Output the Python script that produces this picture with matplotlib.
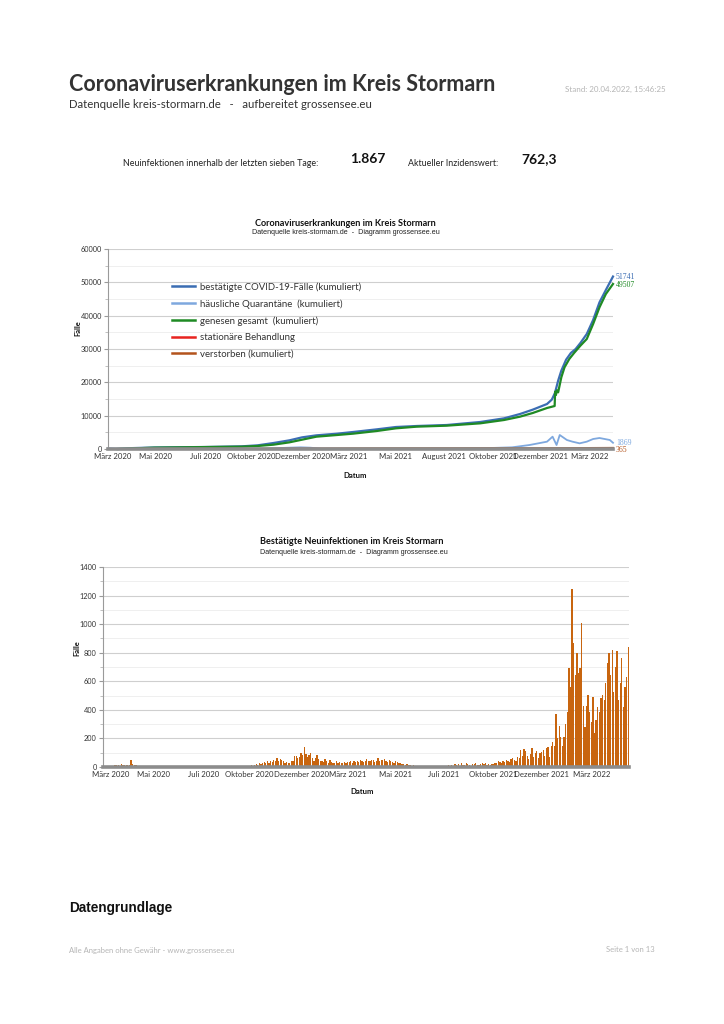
import numpy as np
import matplotlib
matplotlib.use("Agg")
import matplotlib.pyplot as plt
from matplotlib.ticker import MultipleLocator

# ------------------------------------------------------------
# Data (x = running sample index on the category axis)
# ------------------------------------------------------------
tick_idx = [4, 31, 62, 91, 123, 152, 182, 212, 243, 273, 304]
tick_labels_1 = ["März 2020", "Mai 2020", "Juli 2020", "Oktober 2020", "Dezember 2020",
                 "März 2021", "Mai 2021", "August 2021", "Oktober 2021", "Dezember 2021",
                 "März 2022"]
tick_labels_2 = ["März 2020", "Mai 2020", "Juli 2020", "Oktober 2020", "Dezember 2020",
                 "März 2021", "Mai 2021", "Juli 2021", "Oktober 2021", "Dezember 2021",
                 "März 2022"]

# cumulative confirmed cases
conf_x = [7, 15, 30, 62, 85, 95, 105, 115, 123, 132, 145, 155, 170, 182, 195, 214, 235,
          250, 260, 268, 277, 280, 282, 284, 286, 289, 292, 295, 298, 302, 306, 310, 314, 318.5]
conf_y = [0, 250, 450, 600, 800, 1100, 1800, 2600, 3500, 4100, 4600, 5100, 5900, 6600, 6900,
          7200, 8100, 9200, 10500, 11800, 13500, 14800, 16800, 20500, 23500, 26800, 28800,
          30000, 31800, 34500, 38700, 44000, 47700, 51741]

# recovered
rec_x = [7, 15, 30, 62, 85, 95, 105, 115, 123, 132, 145, 155, 170, 182, 195, 214, 235,
         250, 260, 268, 277, 281.8, 282.1, 282.6, 283.2, 284, 286, 288, 291, 294, 298, 302,
         306, 310, 314, 318.5]
rec_y = [0, 150, 400, 580, 700, 900, 1300, 2000, 2800, 3700, 4200, 4600, 5400, 6200, 6700,
         7000, 7700, 8700, 9700, 10800, 12300, 12900, 17200, 16200, 17600, 17000, 21500,
         24500, 27000, 28800, 31000, 33000, 37500, 42500, 46500, 49507]

# home quarantine
quar_x = [1, 7, 30, 62, 100, 115, 122, 128, 135, 150, 182, 214, 235, 255, 266, 277, 280.5,
          283, 285, 289.5, 293, 297.5, 302, 306, 310, 316.5, 318.5]
quar_y = [250, 100, 50, 30, 100, 400, 500, 400, 100, 50, 100, 50, 200, 500, 1200, 2200, 3700,
          1200, 4200, 2700, 2200, 1700, 2200, 3000, 3300, 2700, 1869]

# hospital
hosp_x = [7, 62, 123, 155, 214, 270, 300, 318.5]
hosp_y = [20, 5, 60, 40, 10, 50, 80, 60]

# deaths (cumulative)
dead_x = [7, 30, 62, 123, 155, 214, 270, 300, 318.5]
dead_y = [0, 30, 40, 100, 200, 250, 280, 320, 365]

# daily new infections
new_spring20 = [0, 0, 0, 0, 6, 8, 10, 14, 12, 16, 10, 18, 14, 12, 15, 11, 13, 50, 20, 12, 14,
                10, 7, 6, 7, 5, 4, 4, 3, 3, 2]
new_summer20 = [2, 1, 2, 1, 0, 1, 2, 1, 1, 0, 1, 2, 1, 0, 1, 1, 2, 1, 0, 1, 1, 2, 1, 3, 2,
                1, 2, 3, 2, 1, 3, 2,
                10, 4, 5, 3, 6, 4, 5, 7, 5, 4, 6, 5, 3, 6, 8, 5, 4, 6, 7, 5, 6, 8, 7, 6,
                9, 8, 7, 10, 9]
new_autumn20 = [12, 10, 15, 18, 14, 25, 20, 30, 35, 28, 40, 30, 45, 38, 50, 45, 60, 40, 55,
                50, 42, 30, 35, 25, 30, 45, 40]
new_winter20 = [80, 75, 65, 70, 100, 85, 138, 90, 70, 85, 95, 60, 45, 65, 85, 55, 40,
                45, 35, 55, 40, 30, 50, 35, 25, 30, 40, 28, 35, 25, 30, 35, 28, 32]
new_spring21 = [35, 40, 30, 45, 38, 42, 35, 50, 40, 38, 45, 55, 42, 40, 48, 52, 38, 45, 60,
                42, 50, 48, 55, 40, 38, 50, 45, 35, 30, 40,
                35, 25, 30, 20, 22, 15, 18, 12, 15, 10, 12, 8, 10, 7, 8, 5, 6, 4, 3, 4, 3,
                2, 3, 2, 4, 3, 2, 3, 5, 4]
new_autumn21 = [8, 5, 12, 10, 15, 8, 20, 12, 18, 10, 25, 15, 12, 28, 20, 15, 10, 22, 18, 25,
                12, 15, 20, 30, 18, 25, 15, 20, 12, 22,
                20, 30, 25, 40, 35, 28, 45, 38, 50, 42, 35, 55, 60, 48, 40, 70, 60, 120, 80,
                125, 110, 80, 55, 90, 130, 70, 100, 115, 60, 95, 105, 120, 80, 130, 140, 70,
                150, 175]
new_omicron = [150, 370, 200, 290, 210, 150, 210, 300, 385, 690, 560, 1245, 870, 645, 800,
               660, 690, 1005, 430, 280, 430, 505, 385, 315, 490, 240, 330, 420, 385, 480,
               505, 470, 585, 730, 800, 645, 820, 525, 700, 815, 470, 585, 760, 420, 560,
               630, 840]

new_cases = (new_spring20 + new_summer20 + new_autumn20 + new_winter20 + new_spring21
             + new_autumn21 + new_omicron)

W, H = 724, 1024
fig = plt.figure(figsize=(W / 100, H / 100), dpi=100)
fig.patch.set_facecolor("white")

SANS = ["Lato", "DejaVu Sans"]
ARIAL = ["Liberation Sans", "DejaVu Sans"]


def fx(px):
    return px / W


def fy(py):
    return 1 - py / H


def style_axes(ax, ymax, major, minor):
    ax.set_ylim(0, ymax)
    ax.yaxis.set_major_locator(MultipleLocator(major))
    ax.yaxis.set_minor_locator(MultipleLocator(minor))
    ax.grid(True, which="major", axis="y", color="#cfcfcf", lw=0.8)
    ax.grid(True, which="minor", axis="y", color="#ececec", lw=0.6)
    ax.set_axisbelow(True)
    for s in ["top", "right"]:
        ax.spines[s].set_visible(False)
    ax.spines["left"].set_color("#9a9a9a")
    ax.spines["left"].set_linewidth(0.8)
    ax.spines["bottom"].set_color("#8c8c8c")
    ax.spines["bottom"].set_linewidth(2.6)
    ax.tick_params(axis="y", which="major", length=3, color="#9a9a9a", labelsize=5.3,
                   pad=1.5, labelcolor="#333333")
    ax.tick_params(axis="y", which="minor", length=2, color="#b5b5b5")
    ax.tick_params(axis="x", length=0, labelsize=5.6, pad=3, labelcolor="#333333")
    ax.set_xticks(tick_idx)
    for lab in ax.get_xticklabels() + ax.get_yticklabels():
        lab.set_family(SANS)


# ------------------------------------------------------------
# Page header
# ------------------------------------------------------------
fig.text(fx(69), fy(91), "Coronaviruserkrankungen im Kreis Stormarn", family=SANS,
         weight="bold", fontsize=15.5, color="#333333", va="baseline")
fig.text(fx(69), fy(108), "Datenquelle kreis-stormarn.de   -   aufbereitet grossensee.eu",
         family=SANS, fontsize=8.2, color="#333333", va="baseline")
fig.text(fx(565), fy(92), "Stand: 20.04.2022, 15:46:25", family=SANS, fontsize=5.8,
         color="#b5b5b5", va="baseline")

fig.text(fx(123), fy(166), "Neuinfektionen innerhalb der letzten sieben Tage:", family=SANS,
         fontsize=6.4, color="#222222", va="baseline")
fig.text(fx(350), fy(163), "1.867", family=SANS, weight="bold", fontsize=10,
         color="#111111", va="baseline")
fig.text(fx(408), fy(166), "Aktueller Inzidenswert:", family=SANS, fontsize=6.4,
         color="#222222", va="baseline")
fig.text(fx(521), fy(163), "762,3", family=SANS, weight="bold", fontsize=10,
         color="#111111", va="baseline")

# ------------------------------------------------------------
# Chart 1: cumulative lines
# ------------------------------------------------------------
ax1 = fig.add_axes([fx(108), fy(449), fx(613) - fx(108), fy(249) - fy(449)])
style_axes(ax1, 60000, 10000, 5000)
ax1.set_xlim(0.9, 318.5)
ax1.set_xticklabels(tick_labels_1)

c_conf, c_quar, c_rec, c_hosp, c_dead = "#3b6db3", "#7ea8de", "#1f8a24", "#e8231f", "#b3531c"
ax1.plot(conf_x, conf_y, color=c_conf, lw=1.6, label="bestätigte COVID-19-Fälle (kumuliert)",
         clip_on=False)
ax1.plot(quar_x, quar_y, color=c_quar, lw=1.3, label="häusliche Quarantäne  (kumuliert)",
         clip_on=False)
ax1.plot(rec_x, rec_y, color=c_rec, lw=1.6, label="genesen gesamt  (kumuliert)", clip_on=False)
ax1.plot(hosp_x, hosp_y, color=c_hosp, lw=1.3, label="stationäre Behandlung", clip_on=False)
ax1.plot(dead_x, dead_y, color=c_dead, lw=1.3, label="verstorben (kumuliert)", clip_on=False)

leg = ax1.legend(loc="upper left", bbox_to_anchor=(fx(172), fy(282)),
                 bbox_transform=fig.transFigure, frameon=False, handlelength=2.45,
                 handletextpad=0.5, labelspacing=0.78, prop={"family": SANS, "size": 6.9},
                 borderaxespad=0, borderpad=0)
for t in leg.get_texts():
    t.set_color("#333333")
for h in leg.get_lines():
    h.set_linewidth(1.8)

for val, ypx, col in [(51741, 277, c_conf), (49507, 285, c_rec), (1869, 443, c_quar),
                      (365, 450, c_dead)]:
    fig.text(fx(616), fy(ypx), str(val), family=["Liberation Serif", "DejaVu Serif"],
             fontsize=5.6, color=col, va="center")

fig.text(fx(345), fy(223), "Coronaviruserkrankungen im Kreis Stormarn", family=SANS,
         weight="bold", fontsize=6.6, ha="center", va="center", color="#111111")
fig.text(fx(346), fy(233), "Datenquelle kreis-stormarn.de  -  Diagramm grossensee.eu",
         family=ARIAL, fontsize=5.1, ha="center", va="center", color="#222222")
fig.text(fx(78), fy(328), "Fälle", family=SANS, weight="bold", fontsize=5.4, rotation=90,
         ha="center", va="center", color="#111111")
fig.text(fx(355), fy(475), "Datum", family=SANS, weight="bold", fontsize=5.6, ha="center",
         va="center", color="#111111")

# ------------------------------------------------------------
# Chart 2: daily new infections
# ------------------------------------------------------------
ax2 = fig.add_axes([fx(103), fy(767), fx(629) - fx(103), fy(567) - fy(767)])
style_axes(ax2, 1400, 200, 100)
ax2.set_xlim(-0.5, len(new_cases) - 0.5)
ax2.set_xticklabels(tick_labels_2)
ax2.bar(np.arange(len(new_cases)), new_cases, width=0.8, color="#c8650f", lw=0)

fig.text(fx(352), fy(542), "Bestätigte Neuinfektionen im Kreis Stormarn", family=SANS,
         weight="bold", fontsize=6.6, ha="center", va="center", color="#111111")
fig.text(fx(354), fy(552), "Datenquelle kreis-stormarn.de  -  Diagramm grossensee.eu",
         family=ARIAL, fontsize=5.1, ha="center", va="center", color="#222222")
fig.text(fx(77), fy(648), "Fälle", family=SANS, weight="bold", fontsize=5.4, rotation=90,
         ha="center", va="center", color="#111111")
fig.text(fx(362), fy(792), "Datum", family=SANS, weight="bold", fontsize=5.6, ha="center",
         va="center", color="#111111")

# ------------------------------------------------------------
# Footer
# ------------------------------------------------------------
fig.text(fx(69), fy(908), "Datengrundlage", family=ARIAL, weight="bold", fontsize=9.8,
         va="center", color="#111111")
fig.text(fx(69), fy(950), "Alle Angaben ohne Gewähr - www.grossensee.eu", family=SANS,
         fontsize=5.5, va="center", color="#b5b5b5")
fig.text(fx(655), fy(950), "Seite 1 von 13", family=SANS, fontsize=5.5, ha="right",
         va="center", color="#b5b5b5")

fig.savefig("out.png", dpi=100, facecolor="white")
